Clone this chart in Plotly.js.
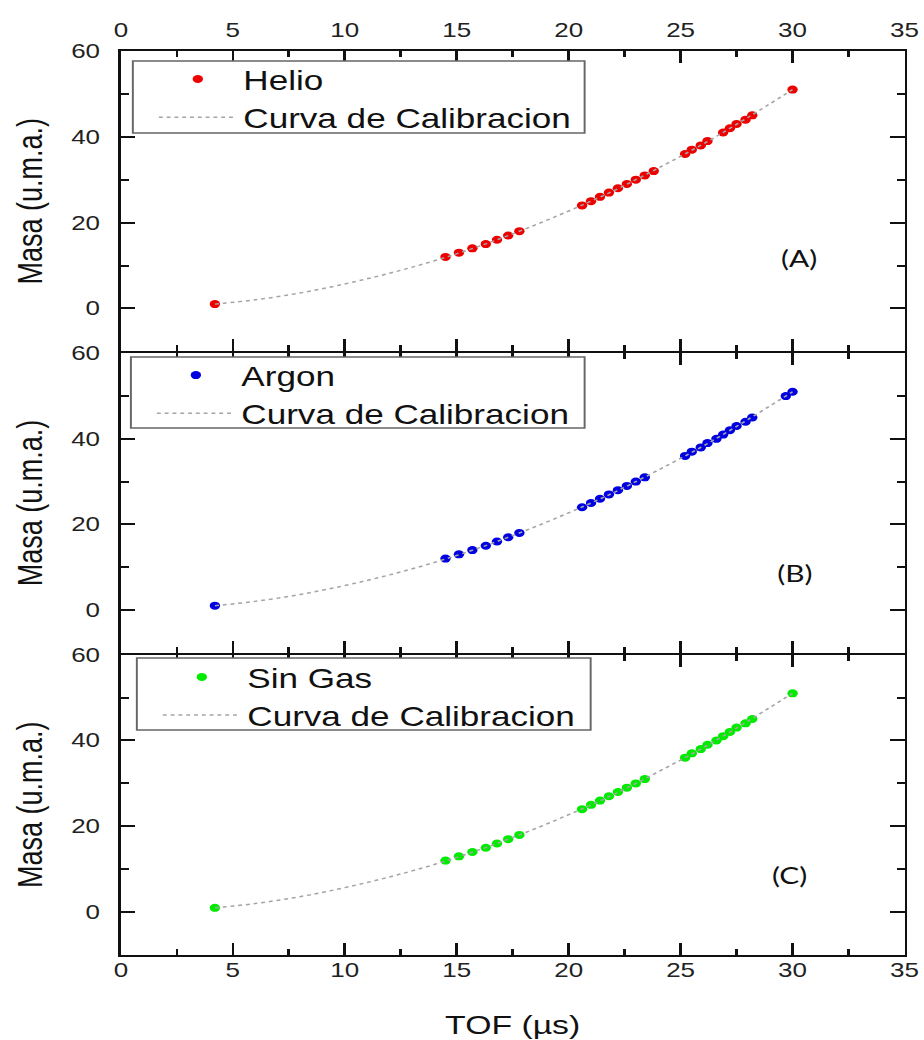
<!DOCTYPE html>
<html>
<head>
<meta charset="utf-8">
<script src="https://cdn.plot.ly/plotly-3.0.1.min.js"></script>
<style>
  html, body { margin: 0; padding: 0; background: #fff; overflow: hidden; }
  /* the figure is laid out narrower and widened horizontally as a whole */
  #chart { width: 711px; height: 1040px; transform: scaleX(1.29958); transform-origin: 0 0; }
</style>
</head>
<body>
<div id="chart"></div>
<script>
// Measured time of flight (µs) and assigned mass (u.m.a.) for each run
const tofHelio  = [4.2, 14.5, 15.1, 15.7, 16.3, 16.8, 17.3, 17.8, 20.6, 21.0, 21.4, 21.8, 22.2, 22.6, 23.0, 23.4, 23.8, 25.2, 25.5, 25.9, 26.2, 26.9, 27.2, 27.5, 27.9, 28.2, 30.0];
const masaHelio = [1, 12, 13, 14, 15, 16, 17, 18, 24, 25, 26, 27, 28, 29, 30, 31, 32, 36, 37, 38, 39, 41, 42, 43, 44, 45, 51];

const tofArgon  = [4.2, 14.5, 15.1, 15.7, 16.3, 16.8, 17.3, 17.8, 20.6, 21.0, 21.4, 21.8, 22.2, 22.6, 23.0, 23.4, 25.2, 25.5, 25.9, 26.2, 26.6, 26.9, 27.2, 27.5, 27.9, 28.2, 29.7, 30.0];
const masaArgon = [1, 12, 13, 14, 15, 16, 17, 18, 24, 25, 26, 27, 28, 29, 30, 31, 36, 37, 38, 39, 40, 41, 42, 43, 44, 45, 50, 51];

const tofSinGas  = [4.2, 14.5, 15.1, 15.7, 16.3, 16.8, 17.3, 17.8, 20.6, 21.0, 21.4, 21.8, 22.2, 22.6, 23.0, 23.4, 25.2, 25.5, 25.9, 26.2, 26.6, 26.9, 27.2, 27.5, 27.9, 28.2, 30.0];
const masaSinGas = [1, 12, 13, 14, 15, 16, 17, 18, 24, 25, 26, 27, 28, 29, 30, 31, 36, 37, 38, 39, 40, 41, 42, 43, 44, 45, 51];

// Calibration curve samples
const tofCurva  = [4.2, 6, 8, 10, 12, 14, 16, 18, 20, 22, 24, 26, 28, 30];
const masaCurva = [1.0, 2.0, 3.6, 5.7, 8.2, 11.1, 14.5, 18.4, 22.7, 27.4, 32.7, 38.3, 44.5, 51.0];

const panelNames  = ['Helio', 'Argon', 'Sin Gas'];
const panelTags   = ['(A)', '(B)', '(C)'];
const curvaName   = 'Curva de Calibracion';
const xTitle      = 'TOF (µs)';
const yTitle      = 'Masa (u.m.a.)';

const series = [
  { x: tofHelio,  y: masaHelio,  color: 'rgb(236,0,0)' },
  { x: tofArgon,  y: masaArgon,  color: 'rgb(0,0,225)' },
  { x: tofSinGas, y: masaSinGas, color: 'rgb(0,235,0)' }
];

const FONT = 'Liberation Sans, Arial, sans-serif';
const axisSuffix = ['', '2', '3'];
const legendIds  = ['legend', 'legend2', 'legend3'];

const traces = [];
series.forEach((s, i) => {
  const xa = 'x' + axisSuffix[i], ya = 'y' + axisSuffix[i];
  traces.push({
    type: 'scatter', mode: 'markers', name: panelNames[i],
    x: s.x, y: s.y, xaxis: xa, yaxis: ya, legend: legendIds[i],
    marker: { color: s.color, size: 8 },
    cliponaxis: false
  });
  traces.push({
    type: 'scatter', mode: 'lines', name: curvaName,
    x: tofCurva, y: masaCurva, xaxis: xa, yaxis: ya, legend: legendIds[i],
    line: { color: 'rgb(165,165,165)', width: 1.5, dash: 'dot', shape: 'spline' }
  });
});

const xCommon = {
  range: [0, 35], dtick: 5, tick0: 0,
  ticks: 'inside', ticklen: 12, tickwidth: 2, tickcolor: '#111',
  minor: { dtick: 2.5, ticks: 'inside', ticklen: 6, tickwidth: 2, tickcolor: '#111' },
  showline: true, linewidth: 2, linecolor: '#111', mirror: 'allticks',
  showgrid: false, zeroline: false,
  tickfont: { family: FONT, size: 20, color: '#222' }
};
const yCommon = {
  range: [-10, 60], dtick: 20, tick0: 0,
  ticks: 'inside', ticklen: 11, tickwidth: 2, tickcolor: '#111',
  minor: { dtick: 10, ticks: 'inside', ticklen: 6, tickwidth: 2, tickcolor: '#111' },
  showline: true, linewidth: 2, linecolor: '#111', mirror: 'allticks',
  showgrid: false, zeroline: false,
  tickfont: { family: FONT, size: 20, color: '#222' },
  ticklabelstandoff: 10,
  title: { text: yTitle, font: { family: FONT, size: 27, color: '#111' }, standoff: 14 }
};

// stacked panels share one boundary line, so each pair is split by the line width
const domains = [[0.6678, 1], [0.3344, 0.6656], [0, 0.3322]];
// legend entries and the framed box drawn behind them (paper coordinates)
const legendPos = [[0.0153, 0.9956], [0.0128, 0.6681], [0.0204, 0.3341]];
const legendBox = [[0.0153, 0.5918, 0.9093, 0.9890],
                   [0.0128, 0.5918, 0.5830, 0.6615],
                   [0.0204, 0.5995, 0.2489, 0.3285]];
const tagPos = [[0.866, 0.771], [0.860, 0.4226], [0.853, 0.0885]];

const layout = {
  width: 711, height: 1040,
  margin: { l: 93, r: 15, t: 51, b: 85 },
  paper_bgcolor: '#fff', plot_bgcolor: '#fff',
  font: { family: FONT, color: '#111' },
  showlegend: true,
  xaxis:  Object.assign({}, xCommon, { anchor: 'y',  side: 'top', ticklabelstandoff: 4 }),
  xaxis2: Object.assign({}, xCommon, { anchor: 'y2', matches: 'x', showticklabels: false }),
  xaxis3: Object.assign({}, xCommon, { anchor: 'y3', matches: 'x', ticklabelstandoff: -4,
            title: { text: xTitle, font: { family: FONT, size: 26, color: '#111' }, standoff: 37 } }),
  annotations: [],
  shapes: []
};
domains.forEach((d, i) => {
  layout['yaxis' + axisSuffix[i]] = Object.assign({}, yCommon, { domain: d, anchor: 'x' + axisSuffix[i] });
  layout[legendIds[i]] = {
    x: legendPos[i][0], y: legendPos[i][1], xanchor: 'left', yanchor: 'top',
    bgcolor: 'rgba(0,0,0,0)', borderwidth: 0,
    font: { family: FONT, size: 27, color: '#111' },
    itemwidth: 60, indentation: 15, traceorder: 'normal'
  };
  const b = legendBox[i];
  layout.shapes.push({
    type: 'rect', xref: 'paper', yref: 'paper', layer: 'above',
    x0: b[0], x1: b[1], y0: b[2], y1: b[3],
    fillcolor: '#fff', line: { color: '#666', width: 1.5 }
  });
  layout.annotations.push({
    xref: 'paper', yref: 'paper', x: tagPos[i][0], y: tagPos[i][1],
    text: panelTags[i], showarrow: false, xanchor: 'center', yanchor: 'middle',
    font: { family: 'Lato, Open Sans, sans-serif', size: 23, color: '#111' }
  });
});

Plotly.newPlot('chart', traces, layout, { staticPlot: true, displayModeBar: false });
</script>
</body>
</html>
